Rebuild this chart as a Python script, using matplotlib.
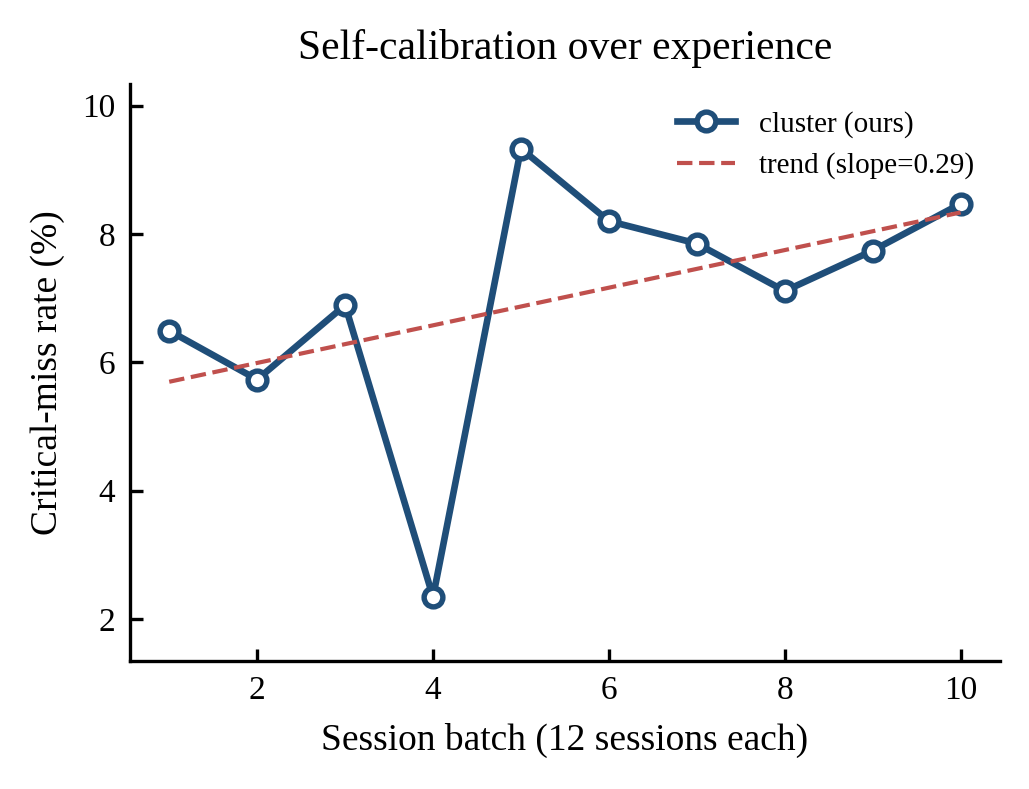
import numpy as np
import matplotlib
matplotlib.use("Agg")
import matplotlib.pyplot as plt

# Data
batches = [1, 2, 3, 4, 5, 6, 7, 8, 9, 10]
miss_rate = [6.49, 5.73, 6.89, 2.34, 9.33, 8.20, 7.85, 7.11, 7.74, 8.47]

plt.rcParams["font.family"] = ["Liberation Serif", "DejaVu Serif"]
plt.rcParams["mathtext.fontset"] = "stix"

x = np.array(batches)
y = np.array(miss_rate)
slope, intercept = np.polyfit(x, y, 1)

fig, ax = plt.subplots(figsize=(3.43, 2.63), dpi=300)

ax.plot(x, y, color="#1f4e79", linewidth=1.6, marker="o", markersize=4.5,
        markerfacecolor="white", markeredgewidth=1.3, label="cluster (ours)")
ax.plot(x, slope * x + intercept, color="#c0504d", linestyle="--", linewidth=1.0,
        label=f"trend (slope={slope:.2f})")

ax.set_ylim(y.min() - 1, y.max() + 1)
ax.set_xticks([2, 4, 6, 8, 10])
ax.set_yticks([2, 4, 6, 8, 10])

ax.set_title("Self-calibration over experience", fontsize=10)
ax.set_xlabel("Session batch (12 sessions each)", fontsize=9)
ax.set_ylabel("Critical-miss rate (%)", fontsize=9)
ax.tick_params(direction="in", labelsize=8, width=0.8, length=3)
for side in ["top", "right"]:
    ax.spines[side].set_visible(False)
for side in ["left", "bottom"]:
    ax.spines[side].set_linewidth(0.8)

ax.legend(loc="upper right", frameon=False, fontsize=7)

fig.subplots_adjust(left=0.126, right=0.972, bottom=0.162, top=0.893)
fig.savefig("out.png", dpi=300)
